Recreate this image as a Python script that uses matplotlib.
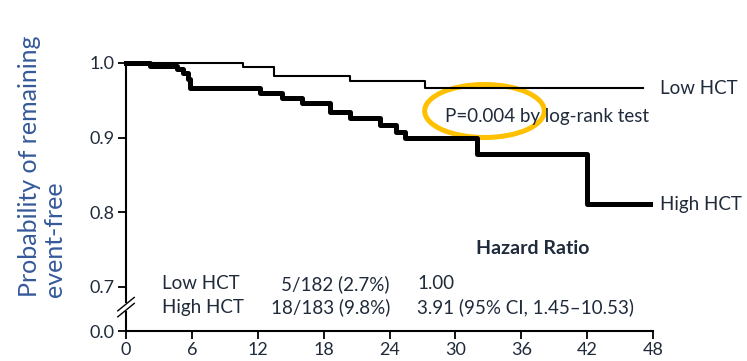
import numpy as np
import matplotlib.pyplot as plt
from matplotlib.patches import Ellipse

# Kaplan-Meier steps (months, probability)
low_t = [0, 10.7, 13.5, 20.4, 27.2, 47.1]
low_s = [1.0, 0.995, 0.983, 0.976, 0.966, 0.966]
high_t = [0, 2.2, 4.6, 5.2, 5.6, 5.8, 12.2, 14.2, 16.0, 18.6, 20.4, 23.1,
          24.6, 25.4, 32.0, 42.0, 47.7]
high_s = [1.0, 0.996, 0.992, 0.987, 0.979, 0.966, 0.960, 0.953, 0.946, 0.934,
          0.926, 0.917, 0.908, 0.900, 0.878, 0.811, 0.811]

x_ticks = [0, 6, 12, 18, 24, 30, 36, 42, 48]
y_ticks = [0.7, 0.8, 0.9, 1.0]
y_zero = 0.641  # where 0.0 sits on the broken axis

groups = ['Low HCT', 'High HCT']
events = ['5/182 (2.7%)', '18/183 (9.8%)']
hazard = ['1.00', '3.91 (95% CI, 1.45\u201310.53)']

plt.rcParams['font.family'] = ['Lato', 'DejaVu Sans']
txt = '#1f2a3a'

fig = plt.figure(figsize=(7.47, 3.61), dpi=100)
ax = fig.add_axes([0.1687, 0.0831, 0.7055, 0.7424])

ax.plot(low_t, low_s, drawstyle='steps-post', color='black', lw=1.5, clip_on=False)
ax.plot(high_t, high_s, drawstyle='steps-post', color='black', lw=3.6, clip_on=False)

ax.set_xlim(0, 48)
ax.set_ylim(y_zero, 1.0)
ax.set_xticks(x_ticks)
ax.set_yticks([y_zero] + y_ticks)
ax.set_yticklabels(['0.0'] + [f'{v:.1f}' for v in y_ticks])
ax.tick_params(axis='both', direction='out', length=6, width=1.3, labelsize=13,
               labelcolor=txt, pad=2)

for s in ['top', 'right', 'left']:
    ax.spines[s].set_visible(False)
ax.spines['bottom'].set_linewidth(1.5)

# broken y axis
ax.plot([0, 0], [y_zero, 0.666], color='black', lw=1.5, clip_on=False)
ax.plot([0, 0], [0.680, 1.0], color='black', lw=1.5, clip_on=False)
for c in [0.669, 0.677]:
    ax.plot([-0.75, 0.75], [c - 0.009, c + 0.009], color='black', lw=1.0, clip_on=False)

fig.text(66 / 747, 64 / 361, 'Probability of remaining\nevent-free', fontsize=18,
         color='#35599a', rotation=90, ha='right', va='bottom', multialignment='left',
         linespacing=1.1)

# curve labels
ax.text(48.6, low_s[-1], groups[0], fontsize=13.5, color=txt, va='center', clip_on=False)
ax.text(48.6, high_s[-1], groups[1], fontsize=13.5, color=txt, va='center', clip_on=False)

ax.text(29.05, 0.928, 'P=0.004 by log-rank test', fontsize=13.5, color=txt, va='center')
ax.add_patch(Ellipse((32.65, 0.9357), 10.9, 0.071, fill=False, edgecolor='#FFC000', lw=3.6))

# hazard ratio table
ax.text(37.0, 0.751, 'Hazard Ratio', fontsize=14, fontweight='bold', color=txt,
        ha='center', va='center')
for i, yy in enumerate([0.704, 0.673]):
    ax.text(3.25, yy, groups[i], fontsize=13.5, color=txt, va='center')
    ax.text(24.04, yy, events[i], fontsize=13.5, color=txt, va='center', ha='right')
    ax.text(26.5, yy, hazard[i], fontsize=13.5, color=txt, va='center')

fig.savefig('out.png', dpi=100)
